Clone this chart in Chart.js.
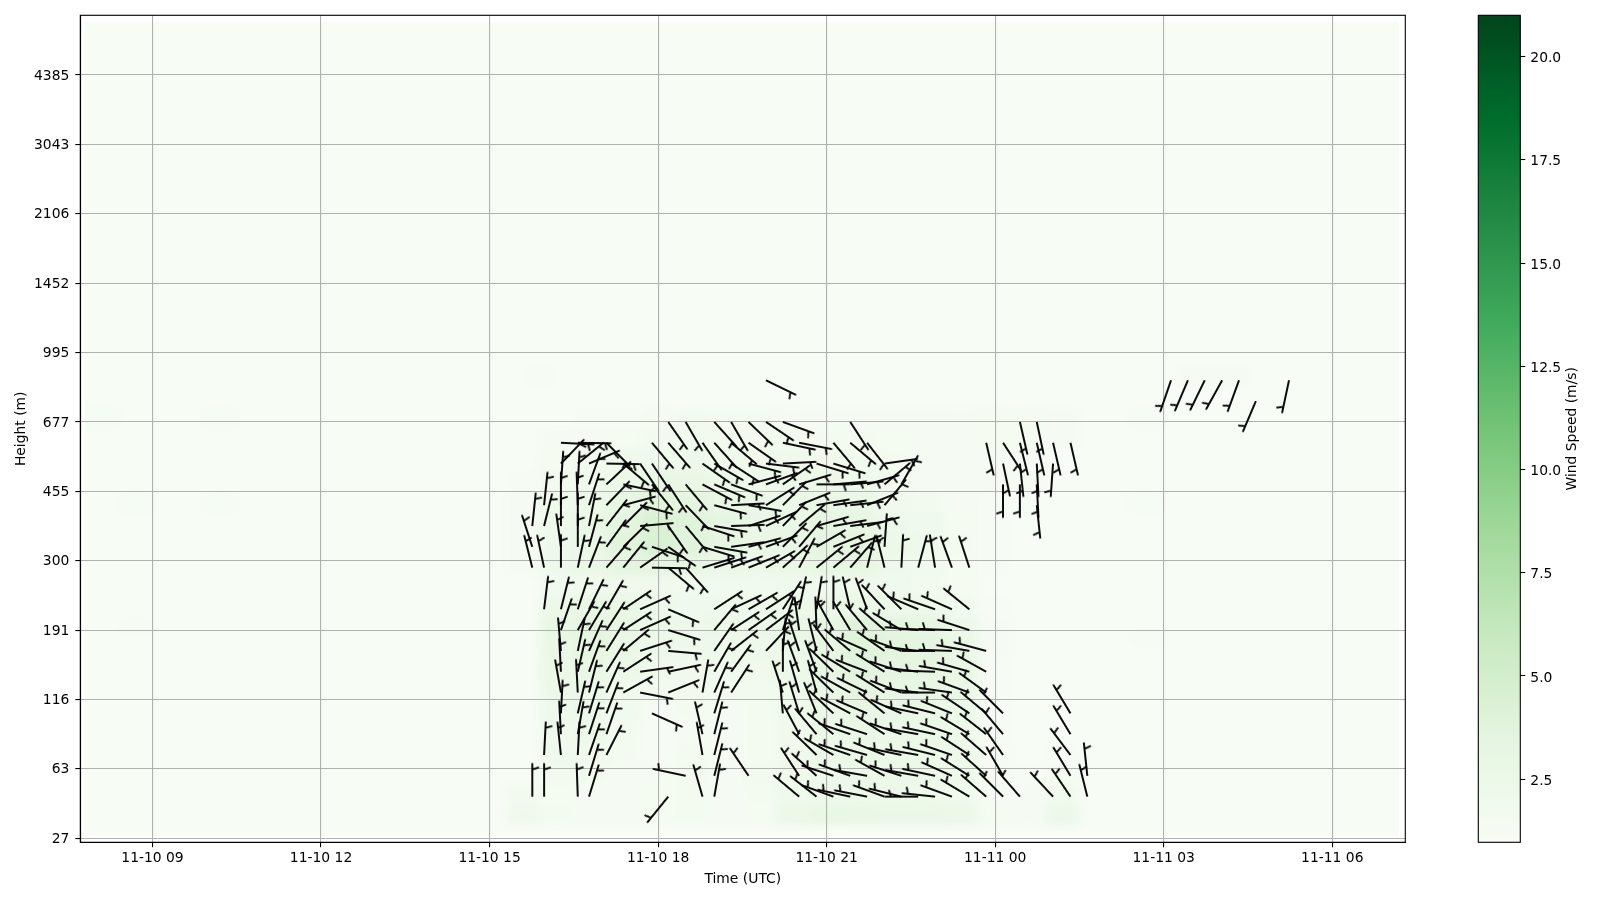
<!DOCTYPE html>
<html>
<head>
<meta charset="utf-8">
<title>Wind barbs</title>
<script src="https://cdn.jsdelivr.net/npm/chart.js@4"></script>
<style>
html, body { margin: 0; padding: 0; background: #fff; }
#wrap { width: 1600px; height: 900px; }
</style>
</head>
<body>
<div id="wrap"><canvas id="chart" width="1600" height="900"></canvas></div>
<script>
// axis ticks: x in hours since 11-10 00:00, y in range gate index
const xTickHours = [9, 12, 15, 18, 21, 24, 27, 30];
const xTickLabels = ['11-10 09', '11-10 12', '11-10 15', '11-10 18', '11-10 21', '11-11 00', '11-11 03', '11-11 06'];
const yTickGates = [0, 10, 20, 30, 40, 50, 60, 70, 80, 90, 100, 110];
const yTickLabels = ['27', '63', '116', '191', '300', '455', '677', '995', '1452', '2106', '3043', '4385'];
const colorbarTicks = [2.5, 5, 7.5, 10, 12.5, 15, 17.5, 20];

// times of the profiles that have barbs (hours)
const barbTimes = [15.76, 15.97, 16.27, 16.57, 16.77, 17.08, 17.38, 17.68, 17.89, 18.18, 18.49, 18.79, 19.00, 19.30,
  19.61, 19.92, 20.22, 20.51, 20.82, 21.12, 21.42, 21.72, 22.03, 22.33, 22.63, 22.93, 23.23, 23.54, 23.84, 24.14,
  24.44, 24.74, 25.03, 25.34, 25.64, 27.13, 27.43, 27.73, 28.04, 28.34, 28.64, 29.23];

// barb rows: pairs of [index into barbTimes, direction in degrees clockwise from up]
const barbsGate06 = [[0,0],[1,0],[3,-2],[4,17],[9,-141],[11,-16],[12,10],[17,-50],[18,-52],[19,-70],[20,-78],[21,-79],[22,-70],[23,-76],[24,-90],[25,-84],[26,-70],[27,-59],[28,-49],[29,-45],[30,-41],[32,-43],[33,-34],[34,-14]];
const barbsGate09 = [[4,17],[10,-78],[12,14],[14,-34],[17,-33],[18,-48],[19,-72],[20,-70],[21,-80],[22,-61],[23,-72],[24,-80],[25,-78],[26,-66],[27,-58],[28,-48],[29,-30],[33,-31],[34,-6]];
const barbsGate12 = [[1,3],[2,-6],[3,3],[4,19],[5,27],[11,-10],[12,14],[18,-46],[19,-60],[20,-71],[21,-74],[22,-68],[23,-78],[24,-80],[25,-76],[26,-71],[27,-57],[28,-49],[29,-35],[33,-37]];
const barbsGate15 = [[2,-3],[3,10],[4,18],[5,19],[11,-13],[12,14],[17,-28],[18,-40],[19,-51],[20,-71],[21,-72],[22,-57],[23,-71],[24,-80],[25,-78],[26,-71],[27,-59],[28,-52],[29,-40],[33,-31]];
const barbsGate18 = [[2,3],[3,13],[4,17],[5,21],[8,114],[12,17],[16,-5],[17,-17],[18,-22],[19,-47],[20,-62],[21,-67],[22,-51],[23,-66],[24,-78],[25,-76],[26,-68],[27,-56],[28,-50],[29,-45],[33,-31]];
const barbsGate21 = [[2,-10],[3,-3],[4,14],[5,24],[6,61],[7,101],[9,68],[11,10],[12,24],[13,33],[16,-18],[17,-16],[18,-15],[19,-46],[20,-61],[21,-64],[22,-58],[23,-69],[24,-83],[25,-90],[26,-82],[27,-70],[28,-54]];
const barbsGate24 = [[2,-3],[3,13],[4,20],[5,32],[6,57],[7,82],[9,78],[12,30],[13,36],[16,0],[17,-20],[18,-20],[19,-46],[20,-59],[21,-69],[22,-58],[23,-72],[24,-83],[25,-88],[26,-80],[27,-74],[28,-61]];
const barbsGate27 = [[2,-5],[3,12],[4,24],[5,32],[6,50],[7,72],[9,95],[12,35],[13,52],[15,43],[16,5],[17,-18],[18,-14],[19,-37],[20,-50],[21,-66],[22,-55],[23,-70],[24,-83],[25,-90],[26,-88],[27,-80],[28,-75]];
const barbsGate30 = [[2,19],[3,30],[4,31],[5,33],[6,57],[7,66],[9,107],[12,40],[13,57],[14,55],[15,53],[16,18],[17,-8],[18,-2],[19,-29],[20,-31],[21,-40],[22,-49],[23,-59],[24,-85],[25,-88],[26,-88],[27,-72]];
const barbsGate33 = [[1,7],[2,14],[3,18],[4,26],[5,30],[6,56],[7,66],[9,113],[12,57],[13,65],[14,60],[15,57],[16,33],[17,12],[18,9],[19,0],[20,-13],[21,-20],[22,-43],[23,-45],[24,-67],[25,-71],[26,-66],[27,-51]];
const barbsGate39 = [[0,-14],[1,-12],[2,0],[3,12],[4,21],[5,41],[6,39],[7,55],[8,91],[9,130],[10,138],[11,73],[12,72],[13,70],[14,68],[15,60],[16,48],[17,28],[18,51],[19,50],[20,41],[21,14],[22,-14],[23,3],[24,15],[25,-9],[26,-20],[27,-18]];
const barbsGate42 = [[0,-18],[2,-8],[3,0],[4,15],[5,36],[6,46],[8,108],[9,125],[11,107],[12,100],[13,82],[14,75],[15,70],[16,45],[17,40],[18,60],[19,68],[20,70],[22,4]];
const barbsGate45 = [[0,6],[1,14],[2,0],[3,0],[4,11],[5,38],[6,45],[7,85],[9,145],[10,140],[11,108],[12,100],[13,88],[14,72],[15,65],[16,44],[17,50],[18,74],[19,80],[20,83],[21,75]];
const barbsGate48 = [[1,6],[2,0],[3,-2],[4,18],[5,44],[6,75],[7,105],[10,136],[12,105],[13,87],[14,100],[15,58],[16,45],[17,68],[18,80],[19,82],[20,84],[21,68],[22,40],[31,174]];
const barbsGate51 = [[2,4],[3,3],[4,20],[5,47],[6,102],[8,141],[9,147],[10,140],[11,118],[12,113],[13,110],[14,75],[15,70],[16,55],[17,73],[18,90],[19,85],[20,85],[21,74],[22,50],[23,30],[29,180],[30,180],[31,177]];
const barbsGate54 = [[2,44],[3,51],[4,67],[5,91],[6,130],[7,146],[8,146],[11,125],[12,120],[13,123],[14,105],[15,97],[16,87],[18,107],[19,107],[22,82],[29,168],[30,174],[31,177],[32,184]];
const barbsGate57 = [[2,93],[3,91],[5,135],[8,140],[9,139],[11,145],[12,138],[13,130],[14,125],[16,102],[17,101],[19,140],[20,130],[21,142],[28,167],[29,147],[30,166],[31,167],[32,167],[33,167]];
const barbsGate60 = [[9,145],[10,150],[12,138],[13,150],[14,134],[15,124],[16,110],[20,147],[30,167],[31,168]];
const barbsGate63 = [[40,203]];
const barbsGate66 = [[15,116],[35,199],[36,203],[37,206],[38,209],[39,200],[41,192]];

// wind speed (m/s), estimated: columns are heatTimes, rows are heatGates
const heatTimes = [15.7, 16.3, 16.9, 17.5, 18.1, 18.7, 19.3, 19.9, 20.5, 21.1, 21.7, 22.3, 22.9, 23.5, 24.1, 24.7, 25.3];
const heatGates = [3, 6, 9, 12, 15, 18, 21, 24, 27, 30, 33, 36, 39, 42, 45, 48, 51, 54, 57, 60];
const heatSpeeds = [
  [2.0,1.5,1.3,1.3,1.4,1.5,1.2,1.4,2.4,2.9,2.8,2.6,2.6,2.4,1.4,1.2,2.3],
  [1.6,1.4,1.3,1.3,1.4,1.5,1.2,1.5,2.1,2.3,2.5,2.3,2.2,2.1,1.3,1.2,1.8],
  [1.0,1.6,1.6,1.3,1.3,1.6,1.3,1.6,2.0,2.2,2.5,2.5,2.4,2.2,1.3,1.1,1.4],
  [1.0,1.9,2.0,1.5,1.1,1.5,1.3,1.5,2.0,2.3,2.6,2.5,2.5,2.3,1.2,1.0,1.1],
  [1.0,2.0,2.2,1.7,1.1,1.3,1.2,1.5,2.0,2.5,2.8,2.6,2.6,2.4,1.1,1.0,1.0],
  [1.0,2.2,2.3,1.8,1.2,1.5,1.3,1.5,2.1,2.6,3.0,2.8,2.8,2.5,1.1,1.0,1.0],
  [1.0,2.4,2.5,2.0,1.6,1.7,1.6,1.7,2.2,2.8,3.3,3.0,3.0,2.7,1.1,1.0,1.0],
  [1.0,2.6,2.8,2.4,2.0,2.0,1.9,2.0,2.4,3.0,3.6,3.3,3.2,2.9,1.1,1.0,1.0],
  [1.0,2.8,3.2,2.8,2.3,2.2,2.2,2.2,2.6,3.0,3.9,3.6,3.4,2.8,1.2,1.0,1.0],
  [1.0,2.9,3.3,3.0,2.5,2.3,2.4,2.3,2.8,3.0,3.8,3.5,3.2,2.4,1.2,1.0,1.0],
  [1.0,2.4,3.0,2.8,2.3,1.9,2.2,2.2,2.5,2.4,2.6,2.5,2.4,1.8,1.1,1.0,1.0],
  [1.0,1.6,1.9,2.0,2.0,1.8,1.8,1.8,1.9,1.9,2.0,1.9,1.7,1.4,1.0,1.0,1.0],
  [1.3,2.2,2.6,3.3,3.4,3.0,2.6,2.4,2.6,3.0,3.2,2.2,1.8,1.4,1.1,1.0,1.0],
  [1.3,2.2,2.6,3.6,4.4,3.8,3.2,2.8,2.8,3.4,3.4,2.4,2.2,1.5,1.1,1.0,1.0],
  [1.3,2.2,2.7,3.5,4.3,3.9,3.2,2.8,2.8,3.2,3.0,2.2,1.9,1.4,1.1,1.0,1.0],
  [1.2,2.0,2.4,3.0,3.6,3.4,2.9,2.6,2.6,2.8,2.6,2.0,1.6,1.2,1.1,1.0,1.0],
  [1.1,1.7,2.0,2.4,2.8,2.8,2.5,2.2,2.3,2.4,2.1,1.7,1.3,1.2,1.3,1.2,1.0],
  [1.0,1.4,1.7,2.0,2.1,2.3,2.1,2.0,2.0,2.0,1.8,1.5,1.3,1.2,1.3,1.2,1.0],
  [1.0,1.2,1.3,1.4,1.6,1.8,1.7,1.7,1.7,1.5,1.5,1.4,1.3,1.2,1.4,1.4,1.2],
  [1.0,1.0,1.1,1.1,1.4,1.6,1.5,1.5,1.3,1.3,1.3,1.2,1.2,1.2,1.4,1.4,1.2]
];

// isolated faint patches outside the main block
const spotTimes = [8.2, 10.15, 8.75, 10.15, 15.86, 26.7, 26.7, 27.6, 28.3, 26.7, 8.75];
const spotGates = [60, 60, 48, 48, 67, 60, 48, 67, 67, 29, 30];
const spotSpeeds = [1.4, 1.5, 1.4, 1.5, 1.3, 1.5, 1.5, 1.6, 1.6, 1.3, 1.2];

const speedMin = 0.97;
const speedMax = 21;
const greens = [[247,252,245],[229,245,224],[199,233,192],[161,217,155],[116,196,118],[65,171,93],[35,139,69],[0,109,44],[0,68,27]];

function greenAt(f) {
    f = Math.min(1, Math.max(0, f)) * (greens.length - 1);
    const i = Math.min(greens.length - 2, Math.floor(f));
    const t = f - i;
    return greens[i].map((c, j) => Math.round(c + (greens[i + 1][j] - c) * t));
}

// one barb: staff going up from the canvas centre, half feather near the far end
function makeBarbCanvas() {
    const c = document.createElement('canvas');
    c.width = 84;
    c.height = 84;
    const g = c.getContext('2d');
    const len = 33.5;
    g.strokeStyle = '#000';
    g.lineWidth = 1.9;
    g.beginPath();
    g.moveTo(42, 42);
    g.lineTo(42, 42 - len);
    g.moveTo(42, 42 - len + 6.3);
    g.lineTo(42 + 6.7, 42 - len + 4.2);
    g.stroke();
    return c;
}
const barbCanvas = makeBarbCanvas();

const barbRows = [
    [6, barbsGate06], [9, barbsGate09], [12, barbsGate12], [15, barbsGate15], [18, barbsGate18], [21, barbsGate21],
    [24, barbsGate24], [27, barbsGate27], [30, barbsGate30], [33, barbsGate33], [39, barbsGate39], [42, barbsGate42],
    [45, barbsGate45], [48, barbsGate48], [51, barbsGate51], [54, barbsGate54], [57, barbsGate57], [60, barbsGate60],
    [63, barbsGate63], [66, barbsGate66]
];
const barbPoints = [];
barbRows.forEach(([gate, row]) => {
    row.forEach(([col, deg]) => barbPoints.push({ x: barbTimes[col], y: gate, deg: deg }));
});

// low resolution speed image, smoothed when it is drawn into the axes
const imgT0 = 7.8, imgT1 = 31.19, imgG0 = 0.3, imgG1 = 117.7, imgDt = 0.3, imgDg = 1.5;
function makeHeatCanvas() {
    const w = Math.round((imgT1 - imgT0) / imgDt);
    const h = Math.round((imgG1 - imgG0) / imgDg);
    const c = document.createElement('canvas');
    c.width = w;
    c.height = h;
    const g = c.getContext('2d');
    const base = greenAt(0);
    g.fillStyle = `rgb(${base.join(',')})`;
    g.fillRect(0, 0, w, h);
    const put = (t, gate, v, cols, rows) => {
        const rgb = greenAt((v - speedMin) / (speedMax - speedMin));
        g.fillStyle = `rgb(${rgb.join(',')})`;
        const px = Math.round((t - imgT0) / imgDt);
        const py = Math.round((imgG1 - gate) / imgDg);
        g.fillRect(px - cols / 2, py - rows / 2, cols, rows);
    };
    heatSpeeds.forEach((row, r) => row.forEach((v, i) => put(heatTimes[i], heatGates[r], v, 2, 2)));
    spotSpeeds.forEach((v, i) => put(spotTimes[i], spotGates[i], v, 1, 2));
    return c;
}
const heatCanvas = makeHeatCanvas();

const axisFont = { family: '"DejaVu Sans"', size: 13.89 };
const LEFT = 80.3, RIGHT = 1405.3, TOP = 15.3, BOTTOM = 842.3;
const CB_LEFT = 1478.3, CB_RIGHT = 1520.3;

// DejaVu digits sit a little high with textBaseline middle, nudge the vertical axes down
function nudgeLabels(scale, dy) {
    if (scale._nudged) return;
    scale._nudged = true;
    const orig = scale._computeLabelItems;
    scale._computeLabelItems = function (area) {
        const items = orig.call(this, area);
        items.forEach(it => { it.options.translation[1] += dy; });
        return items;
    };
}

const heatPlugin = {
    id: 'heat',
    afterLayout(chart) {
        nudgeLabels(chart.scales.y, 1);
        nudgeLabels(chart.scales.cb, 2);
        chart.scales.cb.left = CB_RIGHT;
    },
    beforeDraw(chart) {
        const { x, y, cb } = chart.scales;
        const ctx = chart.ctx;
        ctx.save();
        ctx.fillStyle = '#fff';
        ctx.fillRect(0, 0, chart.width, chart.height);
        ctx.imageSmoothingEnabled = true;
        ctx.imageSmoothingQuality = 'high';
        const x0 = x.getPixelForValue(imgT0), x1 = x.getPixelForValue(imgT1);
        const y0 = y.getPixelForValue(imgG1), y1 = y.getPixelForValue(imgG0);
        ctx.drawImage(heatCanvas, x0, y0, x1 - x0, y1 - y0);
        // colorbar
        const top = cb.getPixelForValue(speedMax), bottom = cb.getPixelForValue(speedMin);
        const grad = ctx.createLinearGradient(0, bottom, 0, top);
        greens.forEach((rgb, i) => grad.addColorStop(i / (greens.length - 1), `rgb(${rgb.join(',')})`));
        ctx.fillStyle = grad;
        ctx.fillRect(CB_LEFT, top, CB_RIGHT - CB_LEFT, bottom - top);
        ctx.restore();
    },
    afterDraw(chart) {
        const ctx = chart.ctx;
        const a = chart.chartArea;
        ctx.save();
        ctx.strokeStyle = '#000';
        ctx.lineWidth = 1.1;
        ctx.strokeRect(a.left, a.top, a.right - a.left, a.bottom - a.top);
        ctx.strokeRect(CB_LEFT, a.top, CB_RIGHT - CB_LEFT, a.bottom - a.top);
        ctx.fillStyle = '#000';
        ctx.font = '13.89px "DejaVu Sans"';
        ctx.textAlign = 'center';
        ctx.textBaseline = 'middle';
        ctx.translate(1572.5, 428.8);
        ctx.rotate(-Math.PI / 2);
        ctx.fillText('Wind Speed (m/s)', 0, 0);
        ctx.restore();
    }
};

new Chart(document.getElementById('chart'), {
    type: 'scatter',
    data: {
        datasets: [{
            data: barbPoints,
            pointStyle: barbCanvas,
            pointRadius: 5,
            pointHoverRadius: 5,
            rotation: ctx => (ctx.raw ? ctx.raw.deg : 0)
        }]
    },
    plugins: [heatPlugin],
    options: {
        responsive: false,
        animation: false,
        events: [],
        layout: { padding: { left: 0, right: 0, top: TOP, bottom: 0 } },
        plugins: { legend: { display: false }, tooltip: { enabled: false } },
        scales: {
            x: {
                type: 'linear',
                min: 7.715,
                max: 31.30,
                afterFit: s => { s.height = 900 - BOTTOM; },
                afterBuildTicks: s => { s.ticks = xTickHours.map(v => ({ value: v })); },
                title: { display: true, text: 'Time (UTC)', color: '#000', font: axisFont, padding: { top: 0, bottom: 12 } },
                border: { color: '#000', width: 1.1 },
                grid: { color: '#b0b0b0', lineWidth: 1.1, tickColor: '#000', tickLength: 5, tickWidth: 1.1 },
                ticks: {
                    color: '#000', font: axisFont, padding: 3, autoSkip: false, maxRotation: 0, includeBounds: false,
                    callback: (v, i) => xTickLabels[i]
                }
            },
            y: {
                type: 'linear',
                min: -0.58,
                max: 118.6,
                afterFit: s => { s.width = LEFT; },
                afterBuildTicks: s => { s.ticks = yTickGates.map(v => ({ value: v })); },
                title: { display: true, text: 'Height (m)', color: '#000', font: axisFont, padding: { top: 13, bottom: 0 } },
                border: { color: '#000', width: 1.1 },
                grid: { color: '#b0b0b0', lineWidth: 1.1, tickColor: '#000', tickLength: 5, tickWidth: 1.1 },
                ticks: {
                    color: '#000', font: axisFont, padding: 6, autoSkip: false, includeBounds: false,
                    callback: (v, i) => yTickLabels[i]
                }
            },
            cb: {
                type: 'linear',
                position: 'right',
                min: speedMin,
                max: speedMax,
                afterFit: s => { s.width = 1600 - RIGHT; },
                afterBuildTicks: s => { s.ticks = colorbarTicks.map(v => ({ value: v })); },
                border: { display: false },
                grid: { drawOnChartArea: false, tickColor: '#000', tickLength: 5, tickWidth: 1.1 },
                ticks: {
                    color: '#000', font: axisFont, padding: 5, autoSkip: false, includeBounds: false,
                    callback: v => v.toFixed(1)
                }
            }
        }
    }
});
</script>
</body>
</html>
